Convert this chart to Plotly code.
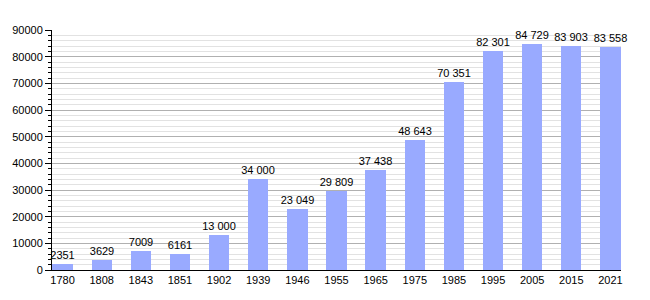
import plotly.graph_objects as go

years = ["1780", "1808", "1843", "1851", "1902", "1939", "1946", "1955",
         "1965", "1975", "1985", "1995", "2005", "2015", "2021"]
population = [2351, 3629, 7009, 6161, 13000, 34000, 23049, 29809,
              37438, 48643, 70351, 82301, 84729, 83903, 83558]
y_ticks = [0, 10000, 20000, 30000, 40000, 50000, 60000, 70000, 80000, 90000]


def fmt(v):
    return f"{v:,}".replace(",", " ") if v >= 10000 else str(v)


labels = [fmt(v) for v in population]

fig = go.Figure(go.Bar(
    x=list(range(len(years))), y=population,
    text=labels, textposition="outside", cliponaxis=False,
    constraintext="none", textangle=0,
    textfont=dict(family="Liberation Sans, Arial", size=11, color="black"),
    marker=dict(color="#99aaff", line=dict(width=0)),
    width=0.52,
))

fig.update_layout(
    width=650, height=300,
    margin=dict(l=50, r=29, t=30, b=30),
    paper_bgcolor="white", plot_bgcolor="white",
    showlegend=False,
    font=dict(family="Liberation Sans, Arial", size=11, color="black"),
    bargap=0,
)
fig.update_xaxes(
    tickmode="array", tickvals=list(range(len(years))), ticktext=years,
    range=[-0.27, 14.27], showgrid=False, showline=True, linecolor="black",
    linewidth=1, ticks="", zeroline=False,
    tickfont=dict(size=11),
)
fig.update_yaxes(
    range=[0, 90000], tickvals=y_ticks, tickformat="d",
    showline=True, linecolor="black", linewidth=1,
    ticks="outside", ticklen=6, tickcolor="black", tickwidth=1,
    showgrid=True, gridcolor="#b0b0b0", gridwidth=1, zeroline=False,
    minor=dict(dtick=2000, ticks="outside", ticklen=3, tickcolor="black",
               showgrid=True, gridcolor="#e2e2e2", gridwidth=1),
    tickfont=dict(size=11),
)

fig.write_html("out.html")
